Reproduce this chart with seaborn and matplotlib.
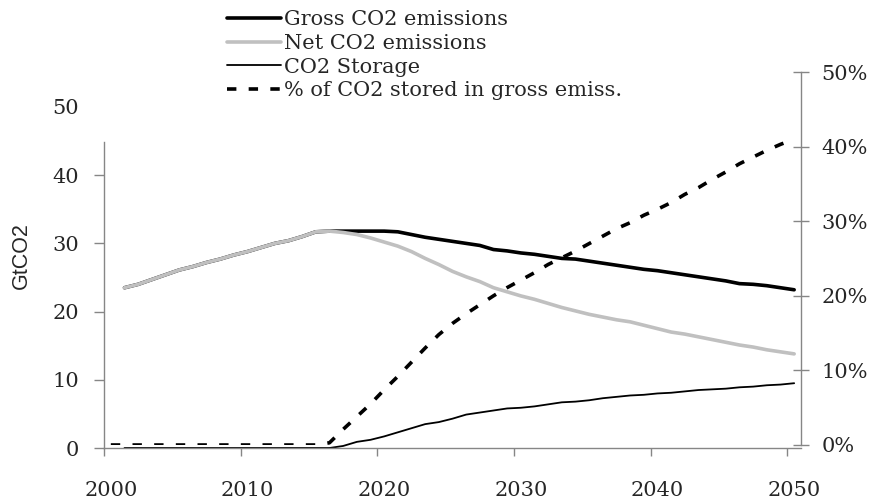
import numpy as np
import pandas as pd
import matplotlib
matplotlib.use("Agg")
import matplotlib.pyplot as plt
from matplotlib.ticker import PercentFormatter
import seaborn as sns

nan = np.nan
years = list(range(2000, 2051))
gross = [nan, 23.5, 24.0, 24.7, 25.4, 26.1, 26.6, 27.2, 27.7, 28.3, 28.8,
         29.4, 30.0, 30.4, 31.0, 31.7, 31.8, 31.8, 31.8, 31.8, 31.8,
         31.7, 31.3, 30.9, 30.6, 30.3, 30.0, 29.7, 29.1, 28.9, 28.6,
         28.4, 28.1, 27.8, 27.7, 27.4, 27.1, 26.8, 26.5, 26.2, 26.0,
         25.7, 25.4, 25.1, 24.8, 24.5, 24.1, 24.0, 23.8, 23.5, 23.2]
net = [nan, 23.5, 24.0, 24.7, 25.4, 26.1, 26.6, 27.2, 27.7, 28.3, 28.8,
       29.4, 30.0, 30.4, 31.0, 31.7, 31.8, 31.6, 31.3, 30.8, 30.2,
       29.6, 28.8, 27.8, 26.9, 25.9, 25.1, 24.4, 23.5, 22.9, 22.3,
       21.8, 21.2, 20.6, 20.1, 19.6, 19.2, 18.8, 18.5, 18.0, 17.5,
       17.0, 16.7, 16.3, 15.9, 15.5, 15.1, 14.8, 14.4, 14.1, 13.8]
storage = [nan, 0, 0, 0, 0, 0, 0, 0, 0, 0, 0,
           0, 0, 0, 0, 0, 0, 0.3, 0.9, 1.2, 1.7,
           2.3, 2.9, 3.5, 3.8, 4.3, 4.9, 5.2, 5.5, 5.8, 5.9,
           6.1, 6.4, 6.7, 6.8, 7.0, 7.3, 7.5, 7.7, 7.8, 8.0,
           8.1, 8.3, 8.5, 8.6, 8.7, 8.9, 9.0, 9.2, 9.3, 9.5]
pct_stored = [0, 0, 0, 0, 0, 0, 0, 0, 0, 0, 0,
              0, 0, 0, 0, 0, 0.3, 2.1, 3.8, 5.5, 7.4,
              9.2, 11.1, 13.0, 14.8, 16.3, 17.6, 18.8, 20.0, 21.1, 22.1,
              23.1, 24.2, 25.1, 26.0, 27.0, 28.0, 29.0, 29.8, 30.8, 31.6,
              32.5, 33.6, 34.5, 35.6, 36.6, 37.7, 38.6, 39.5, 40.3, 41.0]
year_labels = [2000, 2010, 2020, 2030, 2040, 2050]

df = pd.DataFrame({'year': years, 'gross': gross, 'net': net,
                   'storage': storage, 'pct': pct_stored})

sns.set_style("ticks")
plt.rcParams['font.family'] = ['DejaVu Serif']
grey = '#868686'

fig = plt.figure(figsize=(8.81, 4.99), dpi=100)
W, H = 881, 499
ax = fig.add_axes([104 / W, (H - 448) / H, 697 / W, (448 - 107) / H])
ax2 = fig.add_axes([104 / W, (H - 445) / H, 697 / W, (445 - 72) / H])
ax2.patch.set_alpha(0)

sns.lineplot(data=df, x='year', y='gross', ax=ax, color='black', lw=2.6,
             label='Gross CO2 emissions')
sns.lineplot(data=df, x='year', y='net', ax=ax, color='#c0c0c0', lw=2.6,
             label='Net CO2 emissions')
sns.lineplot(data=df, x='year', y='storage', ax=ax, color='black', lw=1.3,
             label='CO2 Storage')
sns.lineplot(data=df, x='year', y='pct', ax=ax2, color='black', lw=2.6,
             linestyle=(0, (2.6, 3.4)), label='% of CO2 stored in gross emiss.')

for a in (ax, ax2):
    if a.get_legend() is not None:
        a.get_legend().remove()
    a.set_xlim(1999.5, 2050.5)
    a.set_xlabel('')
    a.set_ylabel('')
ax2.xaxis.set_visible(False)

# left axis
ax.set_ylim(0, 50)
ax.set_yticks([0, 10, 20, 30, 40, 50])
ax.spines['top'].set_visible(False)
ax.spines['right'].set_visible(False)
ax.spines['left'].set_bounds(0, 44.9)
for s in ('left', 'bottom'):
    ax.spines[s].set_color(grey)
    ax.spines[s].set_linewidth(1.0)
ax.tick_params(axis='y', which='major', direction='out', length=7, width=1,
               color=grey, pad=11, labelsize=15, left=True)
ax.yaxis.get_major_ticks()[-1].tick1line.set_visible(False)

# year labels sit at category centres, tick marks at category boundaries
ax.set_xticks(year_labels)
ax.set_xticklabels([str(y) for y in year_labels])
ax.set_xticks([1999.5, 2009.5, 2019.5, 2029.5, 2039.5, 2049.5], minor=True)
ax.tick_params(axis='x', which='major', length=0, pad=24, labelsize=15)
ax.tick_params(axis='x', which='minor', direction='out', length=6, width=1,
               color=grey, bottom=True)
ax.set_ylabel('GtCO2', family='Liberation Sans', fontsize=15.5)
ax.yaxis.set_label_coords(-0.103, 0.563)

# right axis
ax2.set_ylim(0, 50)
ax2.set_yticks([0, 10, 20, 30, 40, 50])
ax2.yaxis.set_major_formatter(PercentFormatter(decimals=0))
ax2.yaxis.tick_right()
for s in ('top', 'left', 'bottom'):
    ax2.spines[s].set_visible(False)
ax2.spines['right'].set_color(grey)
ax2.spines['right'].set_linewidth(1.0)
ax2.tick_params(axis='y', direction='inout', length=11, width=1, color=grey,
                pad=9, labelsize=15, right=True, left=False)

handles, labels = [], []
for a in (ax, ax2):
    h, l = a.get_legend_handles_labels()
    handles += h
    labels += l
fig.legend(handles, labels, loc='upper left', bbox_to_anchor=(227 / W, 1 - 10 / H),
           frameon=False, fontsize=15, handlelength=2.6, handletextpad=0.15,
           labelspacing=0.23, borderpad=0, borderaxespad=0)

fig.savefig('out.png', dpi=100)
